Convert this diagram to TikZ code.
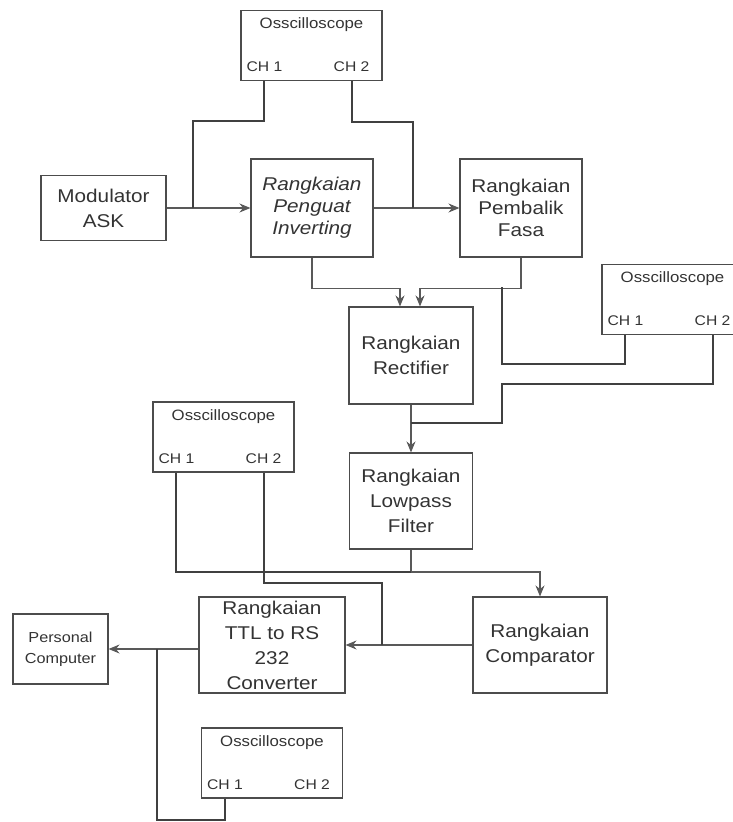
\documentclass[tikz,border=0pt]{standalone}
\usepackage{fontspec}
\setmainfont{Liberation Sans}[FakeStretch=1.12]
\usetikzlibrary{arrows.meta}
\tikzset{
  blok/.style={draw=black!70,line width=1.1pt,align=center,inner sep=0pt,
    text=black!80,font=\fontsize{18.5}{25}\selectfont},
  scope box/.style={draw=black!70,line width=1.1pt,minimum width=141pt,
    minimum height=70pt,inner sep=0pt},
  ch/.style={font=\fontsize{14}{14}\selectfont,text=black!80,inner sep=0pt},
  wire/.style={draw=black!65,line width=1.1pt},
  probe/.style={draw=black!75,line width=2pt},
  sig/.style={wire,-{Stealth[length=11pt,width=9pt]}},
}
\begin{document}
\begin{tikzpicture}[x=1pt,y=-1pt]
\useasboundingbox (0,0) rectangle (733,822);
% blocks
\node[blok,minimum width=125pt,minimum height=65pt] (mod) at (103.5,208) {Modulator\\ASK};
\node[blok,minimum width=122pt,minimum height=98pt,font=\fontsize{18.5}{22}\selectfont\itshape] (inv) at (312,208) {Rangkaian\\Penguat\\Inverting};
\node[blok,minimum width=122pt,minimum height=98pt,font=\fontsize{18.5}{22}\selectfont] (fasa) at (521,208) {Rangkaian\\Pembalik\\Fasa};
\node[blok,minimum width=124pt,minimum height=97pt] (rect) at (411,355.5) {Rangkaian\\Rectifier};
\node[blok,minimum width=123pt,minimum height=96pt] (lpf) at (411,501) {Rangkaian\\Lowpass\\Filter};
\node[blok,minimum width=134pt,minimum height=96pt] (comp) at (540,645) {Rangkaian\\Comparator};
\node[blok,minimum width=146pt,minimum height=96pt] (ttl) at (272,645) {Rangkaian\\TTL to RS\\232\\Converter};
\node[blok,minimum width=95pt,minimum height=70pt,font=\fontsize{14.5}{21}\selectfont] (pc) at (60.5,649) {Personal\\Computer};
% oscilloscopes
\foreach \n/\x/\y in {oscA/311.5/45.5, oscB/672.5/299.5, oscC/223.5/437, oscD/272/763}{
  \node[scope box] (\n) at (\x,\y) {};
  \node[ch,font=\fontsize{15}{15}\selectfont] at ([yshift=-15pt]\n.north) {Osscilloscope};
  \node[ch] (\n-1) at ([xshift=24pt,yshift=14pt]\n.south west) {CH 1};
  \node[ch] (\n-2) at ([xshift=-31pt,yshift=14pt]\n.south east) {CH 2};
}
% junctions
\coordinate (j1) at (193,208);
\coordinate (j2) at (413,208);
\coordinate (j3) at (502,287);
\coordinate (j4) at (411,423);
\coordinate (j5) at (411,572);
\coordinate (j6) at (382,645);
\coordinate (j7) at (157,649);
% signal path
\draw[sig] (mod.east) -- (inv.west);
\draw[sig] (inv.east) -- (fasa.west);
\draw[sig] (inv.south) -- ++(0,31) -| ([xshift=-11pt]rect.north);
\draw[sig] (fasa.south) -- ++(0,31) -| ([xshift=9pt]rect.north);
\draw[sig] (rect.south) -- (lpf.north);
\draw[sig] (lpf.south) -- (j5) -| (comp.north);
\draw[sig] (comp.west) -- (ttl.east);
\draw[sig] (ttl.west |- pc) -- (pc.east);
% probes
\draw[probe] (oscA-1 |- oscA.south) -- ++(0,40) -| (j1);
\draw[probe] (oscA-2 |- oscA.south) -- ++(0,41) -| (j2);
\draw[probe] (oscB-1 |- oscB.south) -- ++(0,29) -| (j3);
\draw[probe] (oscB-2 |- oscB.south) -- ++(0,49) -| (502,423) -- (j4);
\draw[probe] (oscC-1 |- oscC.south) |- (j5);
\draw[probe] (oscC-2 |- oscC.south) -- ++(0,110) -| (j6);
\draw[probe] (oscD-1 |- oscD.south) -- ++(0,21) -| (j7);
\end{tikzpicture}
\end{document}
